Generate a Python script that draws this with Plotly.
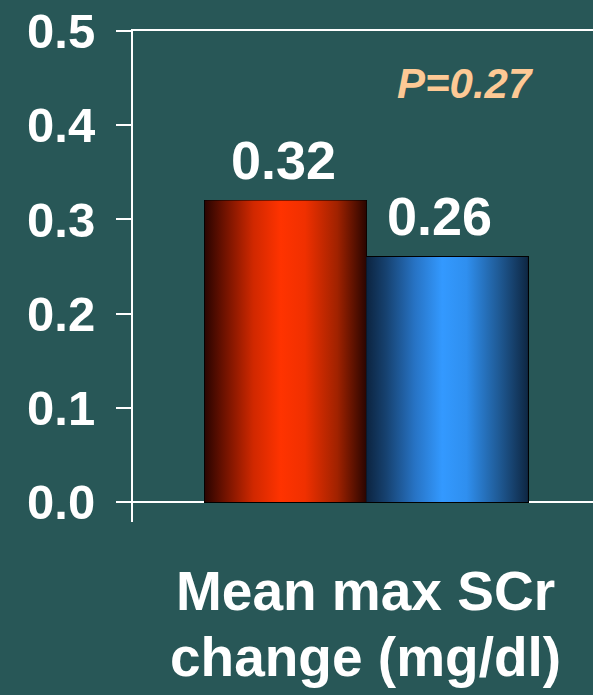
import plotly.graph_objects as go

# Values shown on the chart
values = [0.32, 0.26]
y_ticks = [0.0, 0.1, 0.2, 0.3, 0.4, 0.5]
y_tick_labels = ["0.0", "0.1", "0.2", "0.3", "0.4", "0.5"]
p_value = 0.27
axis_title_lines = ["Mean max SCr", "change (mg/dl)"]

positions = list(range(len(values)))
bar_width = 1.0

BG = "#285757"
FONT = "Liberation Sans, Arial, sans-serif"

# Horizontal shading for each bar (dark edges, bright centre)
gradients = [
    [[0.0, "#2a0400"], [0.12, "#6e1200"], [0.3, "#d02800"], [0.47, "#ff3300"],
     [0.62, "#f03000"], [0.82, "#a02200"], [1.0, "#2a0500"]],
    [[0.0, "#0c2440"], [0.12, "#16416f"], [0.3, "#2773c4"], [0.47, "#3399ff"],
     [0.62, "#2f8fef"], [0.82, "#1f5a95"], [1.0, "#0e2743"]],
]

fig = go.Figure()

# Gradient fill of every bar, spanning the bar's own extent
for pos, val, grad in zip(positions, values, gradients):
    x0, x1 = pos - bar_width / 2, pos + bar_width / 2
    fig.add_trace(go.Scatter(
        x=[x0, x0, x1, x1, x0],
        y=[0, val, val, 0, 0],
        mode="lines",
        line=dict(width=0),
        fill="toself",
        fillgradient=dict(type="horizontal", colorscale=grad),
        hoverinfo="skip",
        showlegend=False,
    ))

# Bars with a black outline on top of the shading
fig.add_trace(go.Bar(
    x=positions,
    y=values,
    width=bar_width,
    marker=dict(color="rgba(0,0,0,0)", line=dict(color="black", width=2)),
    showlegend=False,
    hoverinfo="skip",
))

# Value labels above the bars
for pos, val, dx in zip(positions, values, [-2, -8]):
    fig.add_annotation(
        x=pos, y=val, xref="x", yref="y",
        text=f"{val:.2f}", showarrow=False,
        xanchor="center", yanchor="bottom", xshift=dx, yshift=9,
        font=dict(family=FONT, size=54, color="white", weight="bold"),
    )

# P value
fig.add_annotation(
    x=1.111, y=0.4445, xref="x", yref="y",
    text=f"P={p_value:.2f}", showarrow=False,
    xanchor="center", yanchor="middle",
    font=dict(family=FONT, size=42, color="#fdc995", weight="bold", style="italic"),
)

# Category caption below the axis
for line, ypix in zip(axis_title_lines, [591, 657]):
    fig.add_annotation(
        x=0.505, y=(521.7 - ypix) / 491.0, xref="paper", yref="paper",
        text=line, showarrow=False,
        xanchor="center", yanchor="middle",
        font=dict(family=FONT, size=55, color="white", weight="bold"),
    )

fig.update_layout(
    width=593, height=695,
    margin=dict(l=133, r=0, t=31, b=173, pad=0),
    paper_bgcolor=BG, plot_bgcolor=BG,
    bargap=0,
    xaxis=dict(
        range=[-0.945, 1.903], side="top",
        showline=True, linecolor="white", linewidth=2,
        showticklabels=False, ticks="", showgrid=False, zeroline=False,
        fixedrange=True,
    ),
    yaxis=dict(
        range=[-0.0212, 0.5],
        tickvals=y_ticks, ticktext=y_tick_labels,
        ticks="outside", ticklen=15, tickwidth=2, tickcolor="white",
        ticklabelstandoff=11,
        tickfont=dict(family=FONT, size=49, color="white", weight="bold"),
        showline=True, linecolor="white", linewidth=2,
        showgrid=False,
        zeroline=True, zerolinecolor="white", zerolinewidth=2,
        fixedrange=True,
    ),
)

fig.write_html("out.html")
